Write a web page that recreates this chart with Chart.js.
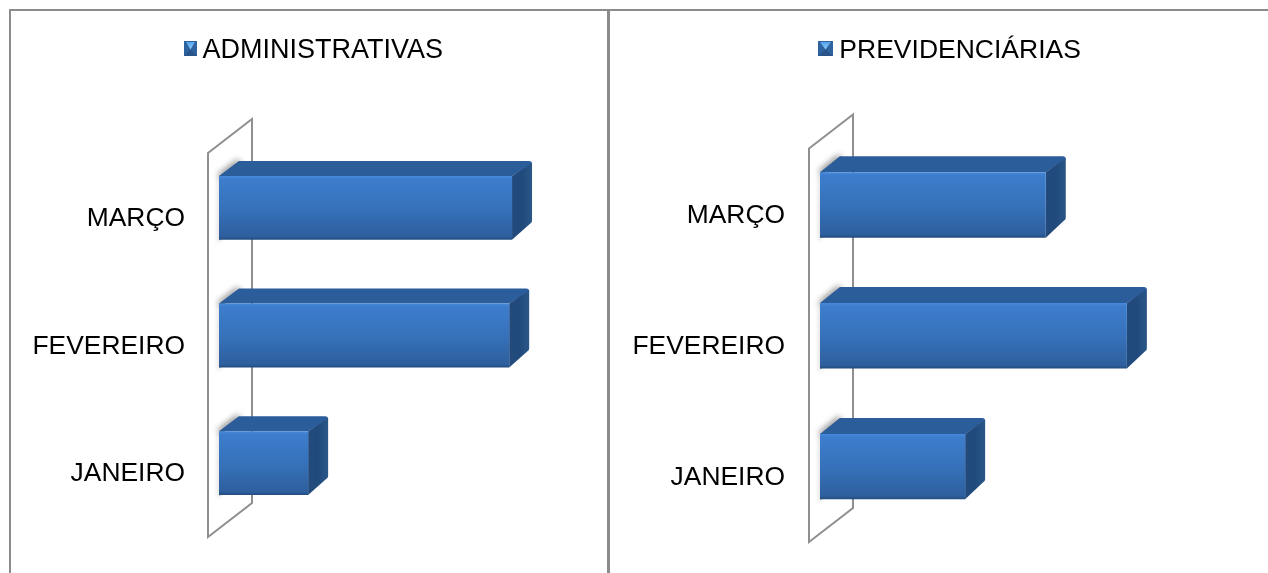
<!DOCTYPE html>
<html>
<head>
<meta charset="utf-8">
<style>
html,body{margin:0;padding:0;background:#fff;width:1268px;height:573px;overflow:hidden}
.line{position:absolute;background:#8c8c8c;z-index:3}
canvas{position:absolute!important}
.box{position:absolute;top:0;height:573px}
</style>
<script src="https://cdn.jsdelivr.net/npm/chart.js@4/dist/chart.umd.min.js"></script>
</head>
<body>
<div class="line" style="left:9px;top:9px;width:1259px;height:2px"></div>
<div class="line" style="left:9px;top:9px;width:2px;height:564px"></div>
<div class="line" style="left:607px;top:9px;width:3px;height:564px"></div>
<div class="box" style="left:0;width:626px"><canvas id="c1"></canvas></div>
<div class="box" style="left:631px;width:637px"><canvas id="c2"></canvas></div>
<script>
const categories = ['MARÇO', 'FEVEREIRO', 'JANEIRO'];
const adminLabel = 'ADMINISTRATIVAS';
const previdLabel = 'PREVIDENCIÁRIAS';
const adminValues = [72, 71.3, 21.9];
const previdValues = [50.4, 68.5, 32.4];
const FONT = '"Liberation Sans", Arial, sans-serif';

function poly(ctx, pts){
  ctx.beginPath();
  pts.forEach((p,i)=> i ? ctx.lineTo(p[0],p[1]) : ctx.moveTo(p[0],p[1]));
  ctx.closePath();
}
function grad(ctx,x0,y0,x1,y1,stops){
  const g = ctx.createLinearGradient(x0,y0,x1,y1);
  stops.forEach(s=>g.addColorStop(s[0],s[1]));
  return g;
}
const box3d = {
  id:'box3d',
  beforeDatasetsDraw(chart, args, o){
    const {ctx, chartArea:a} = chart;
    const dx=o.dx, dy=o.dy;
    ctx.save();
    ctx.strokeStyle='#8f8f8f'; ctx.lineWidth=2; ctx.lineJoin='miter';
    poly(ctx,[[a.left-11,a.top+9],[a.left+33,a.top-25],[a.left+33,a.bottom-24],[a.left-11,a.bottom+10]]);
    ctx.stroke();
    chart.getDatasetMeta(0).data.forEach(b=>{
      const x0=b.base, x1=b.x, t=b.y-b.height/2, bt=b.y+b.height/2;
      // soft shadow falling on the wall, along the left and diagonal edges
      ctx.save();
      ctx.shadowColor='rgba(0,0,0,0.8)'; ctx.shadowBlur=6; ctx.shadowOffsetX=-1; ctx.shadowOffsetY=-1;
      ctx.strokeStyle='#666'; ctx.lineWidth=3; ctx.lineCap='round';
      ctx.beginPath(); ctx.moveTo(x0+2,t+1); ctx.lineTo(x0+dx,t-dy+2); ctx.stroke();
      ctx.shadowColor='rgba(0,0,0,0.45)'; ctx.shadowBlur=4; ctx.shadowOffsetY=2; ctx.lineWidth=1;
      ctx.beginPath(); ctx.moveTo(x0+1,t); ctx.lineTo(x0+1,bt); ctx.stroke();
      ctx.restore();
      // top face
      ctx.fillStyle='#2c5d9b';
      ctx.beginPath();
      ctx.moveTo(x0,t); ctx.lineTo(x0+dx,t-dy); ctx.lineTo(x1+dx-3,t-dy);
      ctx.quadraticCurveTo(x1+dx,t-dy,x1+dx,t-dy+3); ctx.lineTo(x1,t); ctx.closePath();
      ctx.fill();
      // side face
      ctx.fillStyle=grad(ctx,x1,0,x1+dx,0,[[0,'#234a7c'],[0.5,'#214a7c'],[1,'#2a5788']]);
      ctx.beginPath();
      ctx.moveTo(x1,t); ctx.lineTo(x1+dx,t-dy+2); ctx.lineTo(x1+dx,bt-dy-4);
      ctx.quadraticCurveTo(x1+dx,bt-dy-2,x1+dx-2,bt-dy-1); ctx.lineTo(x1,bt); ctx.closePath();
      ctx.fill();
    });
    ctx.restore();
  },
  afterDraw(chart, args, o){
    const hb = chart.legend.legendHitBoxes[0];
    if(!hb) return;
    const ctx=chart.ctx, s=o.boxSize, x=Math.round(hb.left)+o.boxShift, y=41;
    ctx.save();
    ctx.fillStyle='#2f639f';
    ctx.fillRect(x,y,s,15);
    ctx.fillStyle=grad(ctx,0,y,0,y+7,[[0,'#4f9ae6'],[1,'#80c4f8']]);
    poly(ctx,[[x+2,y+1],[x+s-2,y+1],[x+s/2,y+8.5]]); ctx.fill();
    ctx.fillStyle='#29548a';
    poly(ctx,[[x,y+15],[x+s/2,y+8.5],[x+s,y+15]]); ctx.fill();
    ctx.restore();
  }
};
function frontFill(c){
  const chart=c.chart;
  if(c.dataIndex===undefined || !chart.scales.y || !chart.chartArea) return '#3672bd';
  const band=chart.scales.y.height/categories.length, m=chart.scales.y.getPixelForValue(c.dataIndex);
  const t=m-band*0.25, b=m+band*0.25;
  return grad(chart.ctx,0,t,0,b,[[0,'#4689dc'],[0.05,'#3d7dcc'],[0.5,'#3672bb'],[0.95,'#2e5f9d'],[1,'#234b7e']]);
}
function make(id,label,values,opt){
  return new Chart(document.getElementById(id),{
    type:'bar',
    plugins:[box3d],
    data:{labels:categories,datasets:[{label:label,data:values,backgroundColor:frontFill,borderWidth:0,
      categoryPercentage:1,barPercentage:0.5}]},
    options:{
      indexAxis:'y',responsive:false,animation:false,devicePixelRatio:1,
      layout:{padding:{left:0,top:0,right:0,bottom:opt.bottom}},
      plugins:{
        tooltip:{enabled:false},
        box3d:{dx:opt.dx,dy:opt.dy,boxShift:opt.boxShift,boxSize:opt.boxSize},
        legend:{display:true,position:'top',align:'center',onClick:null,labels:{
          boxWidth:opt.boxW,boxHeight:14,padding:37,color:'#000',font:{family:FONT,size:opt.legendSize},
          generateLabels:ch=>[{text:ch.data.datasets[0].label,fillStyle:'rgba(0,0,0,0)',strokeStyle:'rgba(0,0,0,0)',lineWidth:0,datasetIndex:0}]
        }}
      },
      scales:{
        x:{position:'top',min:0,max:100,grid:{display:false},border:{display:false},ticks:{display:false},
           afterFit:s=>{s.height=opt.topGap;}},
        y:{grid:{display:false,drawTicks:false},border:{display:false},
           ticks:{color:'#000',font:{family:FONT,size:26.4},padding:opt.pad,labelOffset:11,autoSkip:false},
           afterFit:s=>{s.width=opt.axisW;s.paddingTop=0;s.paddingBottom=0;}}
      }
    }
  });
}
const c1=document.getElementById('c1'); c1.width=626; c1.height=573;
const c2=document.getElementById('c2'); c2.width=637; c2.height=573;
make('c1',adminLabel,adminValues,{bottom:46,topGap:70,pad:34,axisW:219,dx:20,dy:15,legendSize:27,boxW:6,boxShift:1,boxSize:13});
make('c2',previdLabel,previdValues,{bottom:41,topGap:66,pad:35,axisW:189,dx:20,dy:16,legendSize:26.5,boxW:8,boxShift:0,boxSize:15});
</script>
</body>
</html>
